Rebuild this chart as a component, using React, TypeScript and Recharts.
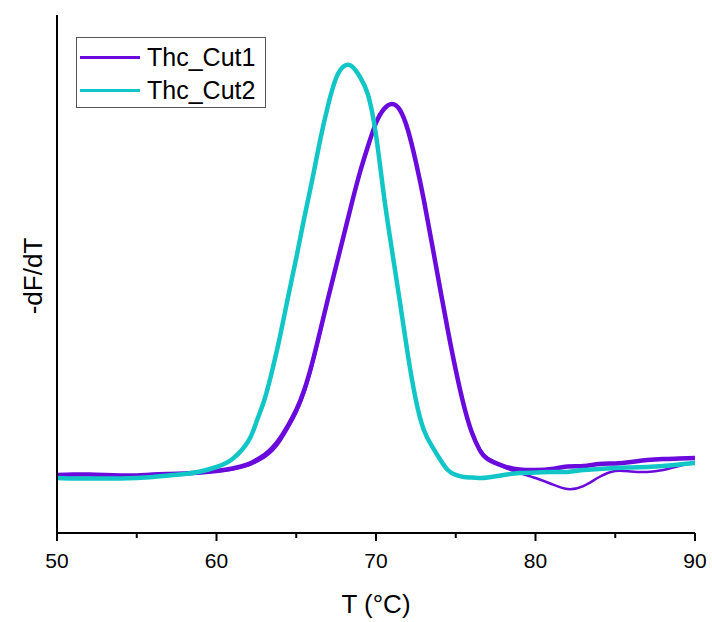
import React from 'react';
import { LineChart, Line, XAxis, YAxis } from 'recharts';

const temps = [50,51,52,53,54,55,56,57,58,59,60,61,62,62.5,63,63.5,64,64.5,65,65.5,66,66.5,67,67.5,68,68.5,69,69.5,70,70.5,71,71.5,72,72.5,73,73.5,74,74.5,75,75.5,76,76.5,77,78,79,80,81,82,83,84,85,86,87,88,89,90];

// Thc_Cut1 replicate A
const cut1A = [11.20,11.29,11.29,11.20,11.10,11.10,11.29,11.39,11.49,11.68,11.97,12.45,13.32,14.09,15.06,16.41,18.34,20.85,23.75,27.61,32.82,39.00,45.37,51.54,57.72,63.90,69.69,74.71,79.15,81.85,82.82,81.66,77.80,71.62,64.29,55.98,47.49,39.19,31.47,24.71,19.50,16.02,14.29,12.93,12.26,12.16,12.36,12.84,12.93,13.32,13.42,13.71,14.09,14.29,14.38,14.48];
// Thc_Cut1 replicate B (with dip near 82)
const cut1B = [11.10,11.20,11.29,11.20,11.01,11.01,11.20,11.29,11.39,11.58,11.87,12.26,13.03,13.71,14.58,15.83,17.76,20.27,23.17,27.03,32.24,38.61,45.17,51.35,57.53,63.71,69.50,74.52,79.15,81.85,82.82,81.66,77.80,71.81,64.48,56.18,47.68,39.38,31.66,24.90,19.69,16.22,14.48,12.74,11.58,10.62,9.46,8.49,9.07,10.81,11.97,11.87,11.78,12.16,12.93,13.71];
// Thc_Cut2
const cut2A = [10.62,10.52,10.52,10.52,10.52,10.62,10.81,11.10,11.39,11.87,12.74,14.29,17.76,21.43,25.68,31.47,38.22,45.75,53.09,60.81,68.15,75.87,82.63,87.84,90.15,90.06,88.03,84.56,76.83,65.06,54.63,44.59,34.36,25.68,19.88,16.80,14.29,12.16,11.20,10.81,10.71,10.62,10.71,11.20,11.58,11.68,11.78,11.78,12.16,12.36,12.55,12.64,12.74,12.93,13.22,13.51];

const xTicks = [50, 55, 60, 65, 70, 75, 80, 85, 90];
const seriesNames = ['Thc_Cut1', 'Thc_Cut2'];
const seriesColors = ['#6A0ADC', '#12C6C8'];

const data = temps.map((t, i) => ({ t, c1a: cut1A[i], c1b: cut1B[i], c2a: cut2A[i] }));

const FONT = '"Liberation Sans", Arial, sans-serif';

const AxisTick = (props: any) => {
  const { x, y, payload } = props;
  const v = payload.value;
  const major = v % 10 === 0;
  return (
    <g>
      <line x1={x} y1={y} x2={x} y2={y + (major ? 8 : 5)} stroke="#000" strokeWidth={2} />
      {major && (
        <text x={x} y={y + 35} textAnchor="middle" fontSize={21} fill="#000" fontFamily={FONT}>
          {v}
        </text>
      )}
    </g>
  );
};

export default function App() {
  return (
    <div style={{ position: 'relative', width: 712, height: 622, fontFamily: FONT, overflow: 'hidden' }}>
      <style>{`body{margin:0;overflow:hidden}`}</style>
      <LineChart width={712} height={622} data={data} margin={{ top: 15, right: 17, left: 0, bottom: 29 }}>
        <XAxis
          dataKey="t"
          type="number"
          domain={[50, 90]}
          ticks={xTicks}
          interval={0}
          height={60}
          tickSize={0}
          tickMargin={0}
          tick={<AxisTick />}
          tickLine={false}
          axisLine={{ stroke: '#000', strokeWidth: 2 }}
          allowDataOverflow
          label={{
            content: () => (
              <text x={376} y={613} textAnchor="middle" fontSize={26} fill="#000" fontFamily={FONT}>
                T (°C)
              </text>
            ),
          }}
        />
        <YAxis
          type="number"
          domain={[0, 100]}
          width={57}
          tick={false}
          tickLine={false}
          axisLine={{ stroke: '#000', strokeWidth: 2 }}
          allowDataOverflow
          label={{
            content: () => (
              <text x={42} y={276} transform="rotate(-90 42 276)" textAnchor="middle" fontSize={26} fill="#000" fontFamily={FONT}>
                -dF/dT
              </text>
            ),
          }}
        />
        <Line dataKey="c1b" type="natural" stroke={seriesColors[0]} strokeWidth={2.5} dot={false} isAnimationActive={false} />
        <Line dataKey="c1a" type="natural" stroke={seriesColors[0]} strokeWidth={4.5} dot={false} isAnimationActive={false} />
        <Line dataKey="c2a" type="natural" stroke={seriesColors[1]} strokeWidth={4.5} dot={false} isAnimationActive={false} />
      </LineChart>
      <div
        style={{
          position: 'absolute',
          left: 76,
          top: 37,
          width: 188,
          height: 69,
          border: '1px solid #555',
          background: '#fff',
        }}
      >
        {seriesNames.map((name, i) => (
          <div key={name} style={{ position: 'absolute', left: 0, top: 3 + i * 33, height: 33, width: 188 }}>
            <div
              style={{
                position: 'absolute',
                left: 3,
                top: 15,
                width: 60,
                height: 3,
                background: seriesColors[i],
              }}
            />
            <div
              style={{
                position: 'absolute',
                left: 70,
                top: 1,
                fontSize: 25,
                lineHeight: '30px',
                color: '#000',
                fontFamily: FONT,
                whiteSpace: 'nowrap',
              }}
            >
              {name}
            </div>
          </div>
        ))}
      </div>
    </div>
  );
}
